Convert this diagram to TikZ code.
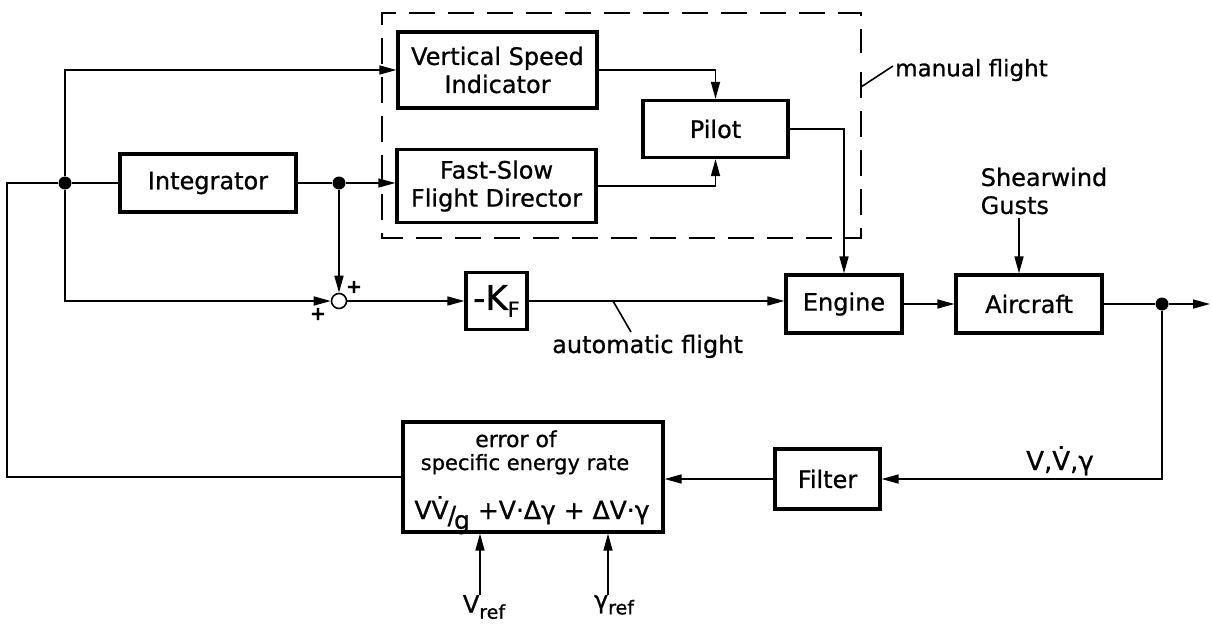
\documentclass[tikz,border=0pt]{standalone}
\usepackage{fontspec}
\setmainfont{DejaVu Sans}[FakeBold=0.8]
\usetikzlibrary{arrows.meta}
\begin{document}
\begin{tikzpicture}[x=1pt,y=-1pt,
  blk/.style={draw, line width=3.2pt, inner sep=0pt, align=center, font=\fontsize{24}{28}\selectfont},
  conn/.style={line width=1.6pt},
  arr/.style={conn, -{Triangle[length=17pt,width=9pt]}},
  lbl/.style={inner sep=0pt, font=\fontsize{24}{28}\selectfont},
  plus/.style={inner sep=0pt, font=\bfseries\fontsize{19}{19}\selectfont},
  jdot/.style={circle, fill, inner sep=0pt, minimum size=13pt},
  dashbox/.style={line width=2.8pt, dash pattern=on 26pt off 13pt}]
\useasboundingbox (0,0) rectangle (1212,629);
% blocks
\node[blk, minimum width=199pt, minimum height=76pt] (vsi) at (497.5,70) {Vertical Speed\\Indicator};
\node[blk, minimum width=199pt, minimum height=73pt] (fs) at (496.5,186) {Fast-Slow\\Flight Director};
\node[blk, minimum width=145pt, minimum height=57pt] (pilot) at (715.5,129) {Pilot};
\node[blk, minimum width=176pt, minimum height=58pt] (int) at (208,183) {Integrator};
\node[blk, minimum width=61pt, minimum height=57pt] (kf) at (496.5,301) {\fontsize{34}{34}\selectfont -K\raisebox{-7pt}{\fontsize{21}{21}\selectfont F}};
\node[blk, minimum width=116pt, minimum height=58pt] (eng) at (844,304) {Engine};
\node[blk, minimum width=146pt, minimum height=58pt] (air) at (1029,304) {Aircraft};
\node[blk, minimum width=105pt, minimum height=60pt] (filt) at (827.5,479) {Filter};
\node[blk, minimum width=260pt, minimum height=110pt] (err) at (533,477) {};
\node[lbl, anchor=base, font=\fontsize{22}{22}\selectfont] (e1) at (516,447) {error of};
\node[lbl, anchor=base, font=\fontsize{21}{21}\selectfont] (e2) at (525,470) {specific energy rate};
\node[lbl, anchor=base, font=\fontsize{25}{25}\selectfont] (e3) at (532,519) {VV̇\kern-1pt\raisebox{-5pt}{/}\kern-2pt\raisebox{-10pt}{g}\ +V·Δγ + ΔV·γ};
% junctions
\node[circle, draw, line width=1.6pt, inner sep=0pt, minimum size=15pt] (sum) at (339,301) {};
\node[jdot] (d1) at (65,183) {};
\node[jdot] (d2) at (339,183) {};
\node[jdot] (d3) at (1162,304) {};
% labels
\node[plus] (p1) at (354,287) {+};
\node[plus] (p2) at (318,314) {+};
\node[lbl, anchor=west, font=\fontsize{23}{23}\selectfont] (mf) at (895,70) {manual flight};
\node[lbl, anchor=base west] (af) at (552,353) {automatic flight};
\node[lbl, align=left] (gust) at (1044,191) {Shearwind\\Gusts};
\node[lbl, font=\fontsize{26}{26}\selectfont, anchor=base] (vvg) at (1060,470) {V,V̇,γ};
\node[lbl, anchor=north] (vref) at (484,595) {V\raisebox{-6pt}{\fontsize{19}{19}\selectfont ref}};
\node[lbl, anchor=north] (gref) at (614,595) {γ\raisebox{-6pt}{\fontsize{19}{19}\selectfont ref}};
% coordinates
\coordinate (out) at (1210,304);
\coordinate (fbl) at (7,477);
\coordinate (gin) at (1019,218);
\coordinate (mfl) at (893,66);
\coordinate (mfb) at (861,87);
\coordinate (afa) at (613,301);
\coordinate (afb) at (631,332);
% dashed manual-flight box
\draw[dashbox] (861,72) -- (861,238) -- (382,238) -- (382,13) -- (861,13) -- (861,53);
% connectors
\draw[conn] (err.west) -- (fbl) |- (d1);
\draw[conn] (d1) -- (int.west);
\draw[arr] (d1) |- (vsi.west);
\draw[conn] (int.east) -- (d2);
\draw[arr] (d2) -- (d2 -| fs.west);
\draw[arr] (d2) -- (sum.north);
\draw[arr] (d1) |- (sum.west);
\draw[arr] (sum.east) -- (kf.west);
\draw[arr] (kf.east) -- (kf.east -| eng.west);
\draw[arr] (eng.east) -- (air.west);
\draw[conn] (air.east) -- (d3);
\draw[arr] (d3) -- (out);
\draw[arr] (d3) |- (filt.east);
\draw[arr] (filt.west) -- (filt.west -| err.east);
\draw[arr] (vsi.east) -| (pilot.north);
\draw[arr] (fs.east) -| (pilot.south);
\draw[arr] (pilot.east) -| (eng.north);
\draw[arr] (gin) -- (gin |- air.north);
\draw[arr] ([xshift=-4pt]vref.north) -- ([xshift=-4pt]vref.north |- err.south);
\draw[arr] ([xshift=-6pt]gref.north) -- ([xshift=-6pt]gref.north |- err.south);
\draw[conn] (mfb) -- (mfl);
\draw[conn] (afa) -- (afb);
\end{tikzpicture}
\end{document}
